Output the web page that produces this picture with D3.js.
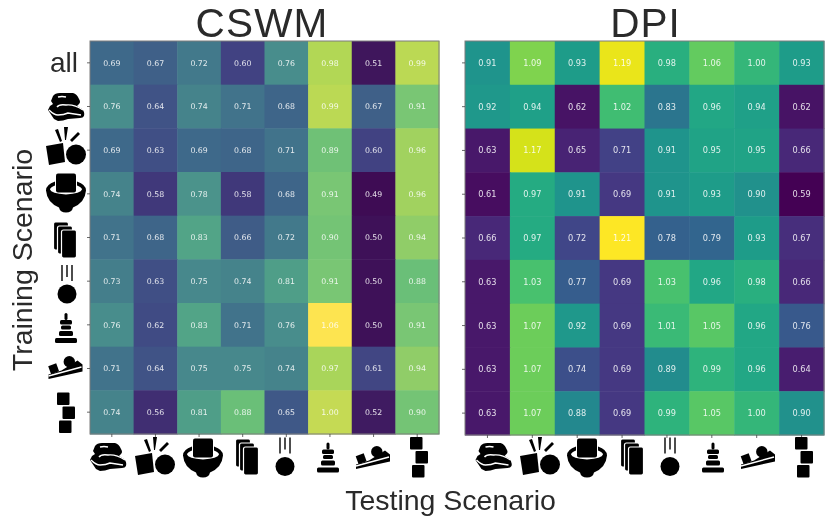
<!DOCTYPE html>
<html>
<head>
<meta charset="utf-8">
<script src="https://cdn.jsdelivr.net/npm/d3@7"></script>
<style>
html, body { margin: 0; padding: 0; background: #fff; }
svg { display: block; filter: blur(0.35px); }
</style>
</head>
<body>
<svg width="831" height="521"></svg>
<script>
var trainLabels = ['all', 'towel', 'collide', 'contain', 'cards', 'fall', 'tower', 'ramp', 'blocks'];
var testLabels = ['towel', 'collide', 'contain', 'cards', 'fall', 'tower', 'ramp', 'blocks'];

// one row per training scenario
var cswmValues = [
    [0.69, 0.67, 0.72, 0.60, 0.76, 0.98, 0.51, 0.99],
    [0.76, 0.64, 0.74, 0.71, 0.68, 0.99, 0.67, 0.91],
    [0.69, 0.63, 0.69, 0.68, 0.71, 0.89, 0.60, 0.96],
    [0.74, 0.58, 0.78, 0.58, 0.68, 0.91, 0.49, 0.96],
    [0.71, 0.68, 0.83, 0.66, 0.72, 0.90, 0.50, 0.94],
    [0.73, 0.63, 0.75, 0.74, 0.81, 0.91, 0.50, 0.88],
    [0.76, 0.62, 0.83, 0.71, 0.76, 1.06, 0.50, 0.91],
    [0.71, 0.64, 0.75, 0.75, 0.74, 0.97, 0.61, 0.94],
    [0.74, 0.56, 0.81, 0.88, 0.65, 1.00, 0.52, 0.90]
];
var dpiValues = [
    [0.91, 1.09, 0.93, 1.19, 0.98, 1.06, 1.00, 0.93],
    [0.92, 0.94, 0.62, 1.02, 0.83, 0.96, 0.94, 0.62],
    [0.63, 1.17, 0.65, 0.71, 0.91, 0.95, 0.95, 0.66],
    [0.61, 0.97, 0.91, 0.69, 0.91, 0.93, 0.90, 0.59],
    [0.66, 0.97, 0.72, 1.21, 0.78, 0.79, 0.93, 0.67],
    [0.63, 1.03, 0.77, 0.69, 1.03, 0.96, 0.98, 0.66],
    [0.63, 1.07, 0.92, 0.69, 1.01, 1.05, 0.96, 0.76],
    [0.63, 1.07, 0.74, 0.69, 0.89, 0.99, 0.96, 0.64],
    [0.63, 1.07, 0.88, 0.69, 0.99, 1.05, 1.00, 0.90]
];

var cswmStops = [0, 0.19, 0.35, 0.47, 0.6, 0.68, 0.75, 0.86, 1];
var cswmStopColors = ['rgb(62,12,84)', 'rgb(65,65,130)', 'rgb(62,105,138)', 'rgb(72,140,140)', 'rgb(82,165,135)',
    'rgb(105,190,120)', 'rgb(125,200,115)', 'rgb(178,215,85)', 'rgb(253,228,80)'];

var svg = d3.select('svg');
var titleFont = '"Liberation Sans", Arial, sans-serif';
var cellFont = '"DejaVu Sans", sans-serif';

// the scenario pictograms, drawn around 0,0
var icons = {
    towel: function(g) {
        g.append('path').attr('d', 'M-13,-11 Q-11,-14 -6,-14 L7,-14 Q11,-13 13,-8 Q15,-5 13,-3 L11,-1 L16,2 Q19,5 18,9 Q17,11 14,11 L2,12 Q-3,14 -8,14 L-12,12 L-18,3 L-16,-1 L-13,-3 L-15,-6 Z');
        g.append('path').attr('d', 'M-8,-10 Q-4,-11 0,-10').attr('class', 'cut');
        g.append('path').attr('d', 'M-9,0 Q-7,-3 0,-2 Q8,-3 17,3').attr('class', 'cut');
        g.append('path').attr('d', 'M-17,3 Q-12,8 -8,8 Q-2,8 2,6 L15,8').attr('class', 'cut');
    },
    collide: function(g) {
        g.append('path').attr('d', 'M-20,0 L-3,-3 L-1,16 L-17,19 Z');
        g.append('circle').attr('cx', 10).attr('cy', 8.5).attr('r', 10);
        g.append('path').attr('d', 'M-11,-16 L-8,-17 L-4,-5 L-6,-4 Z');
        g.append('path').attr('d', 'M-2,-19 L2,-19 L0,-6 L-1,-6 Z');
        g.append('path').attr('d', 'M12,-14 L14,-12 L6,-4 L4,-6 Z');
    },
    contain: function(g) {
        g.append('path').attr('d', 'M-11,-11 Q-20,-8 -20,-2 Q-19,10 -7,15 Q-6,20 0,20 Q6,20 7,15 Q19,10 20,-2 Q20,-8 11,-11 L11,-7 Q16,-5 16,-3 Q15,1 0,2 Q-15,1 -16,-3 Q-16,-5 -11,-7 Z');
        g.append('rect').attr('x', -10).attr('y', -19).attr('width', 20).attr('height', 19).attr('rx', 2);
    },
    cards: function(g) {
        [[-11.5, -18], [-7.5, -14], [-3.5, -10]].forEach(function(p) {
            g.append('rect').attr('x', p[0]).attr('y', p[1])
                .attr('width', 15).attr('height', 28).attr('rx', 2)
                .attr('stroke', '#fff').attr('stroke-width', 1.2);
        });
    },
    fall: function(g) {
        g.append('circle').attr('cx', 0).attr('cy', 10).attr('r', 9.5);
        [[-5, -3], [0, -7], [5, -3]].forEach(function(p) {
            g.append('line').attr('x1', p[0]).attr('x2', p[0]).attr('y1', -19).attr('y2', p[1])
                .attr('stroke', '#000').attr('stroke-width', 1.4);
        });
    },
    tower: function(g) {
        [[-1.5, -15, 3, 7], [-6, -8, 12, 4.5], [-5, -2.5, 10, 4], [-7, 3, 14, 5], [-11, 10, 22, 5]].forEach(function(p) {
            g.append('rect').attr('x', p[0]).attr('y', p[1]).attr('width', p[2]).attr('height', p[3]).attr('rx', 1.5);
        });
    },
    ramp: function(g) {
        g.append('path').attr('d', 'M-17,7 L-4,3 L12,-7 L17,-3 L17,4 L-17,11.5 Z');
        g.append('path').attr('d', 'M-17,8.5 L16,-0.5').attr('class', 'cut');
        g.append('circle').attr('cx', 3.8).attr('cy', -5.8).attr('r', 5.7);
        g.append('rect').attr('x', -16).attr('y', -3).attr('width', 8.5).attr('height', 8.5)
            .attr('transform', 'rotate(-20 -12 1.5)');
    },
    blocks: function(g) {
        [[-9, -20], [-3.5, -6], [-7, 8]].forEach(function(p) {
            g.append('rect').attr('x', p[0]).attr('y', p[1]).attr('width', 12.5).attr('height', 12.5).attr('rx', 1);
        });
    }
};

function drawIcon(name, x, y) {
    var g = svg.append('g').attr('transform', 'translate(' + x + ',' + y + ')').attr('fill', '#000');
    icons[name](g);
    g.selectAll('.cut').attr('fill', 'none').attr('stroke', '#fff').attr('stroke-width', 1.4);
}

// Draw one heatmap panel
function drawPanel(values, box, colorOf, fontSize) {
    var x = d3.scaleBand().domain(testLabels).range([box.l, box.r]);
    var y = d3.scaleBand().domain(trainLabels).range([box.t, box.b]);
    var flat = d3.merge(values);
    var color = d3.scaleLinear().domain(d3.extent(flat)).range([0, 1]);

    var cells = [];
    values.forEach(function(row, i) {
        row.forEach(function(v, j) {
            cells.push({train: trainLabels[i], test: testLabels[j], value: v});
        });
    });

    var g = svg.append('g');
    g.selectAll('rect').data(cells).enter().append('rect')
        .attr('x', function(d) { return x(d.test); })
        .attr('y', function(d) { return y(d.train); })
        .attr('width', x.bandwidth() + 0.5)
        .attr('height', y.bandwidth() + 0.5)
        .attr('fill', function(d) { return colorOf(color(d.value)); });

    g.selectAll('text').data(cells).enter().append('text')
        .attr('x', function(d) { return x(d.test) + x.bandwidth() / 2; })
        .attr('y', function(d) { return y(d.train) + y.bandwidth() / 2; })
        .attr('dy', '0.36em')
        .attr('text-anchor', 'middle')
        .attr('font-family', cellFont)
        .attr('font-size', fontSize)
        .attr('fill', '#fff')
        .attr('fill-opacity', 0.85)
        .text(function(d) { return d.value.toFixed(2); });

    svg.append('rect')
        .attr('x', box.l).attr('y', box.t)
        .attr('width', box.r - box.l).attr('height', box.b - box.t)
        .attr('fill', 'none').attr('stroke', '#7d7d7d').attr('stroke-width', 1);

    var bottom = svg.append('g').attr('transform', 'translate(0,' + box.b + ')')
        .call(d3.axisBottom(x).tickSize(3).tickFormat(''));
    var left = svg.append('g').attr('transform', 'translate(' + box.l + ',0)')
        .call(d3.axisLeft(y).tickSize(3).tickFormat(''));
    bottom.select('.domain').remove();
    left.select('.domain').remove();
    svg.selectAll('.tick line').attr('stroke', '#444').attr('stroke-width', 0.8);
}

var washed = d3.scaleLinear().domain(cswmStops).range(cswmStopColors);

drawPanel(cswmValues, {l: 90, r: 439, t: 41, b: 434}, washed, 7.8);
drawPanel(dpiValues, {l: 465, r: 824, t: 41, b: 435}, d3.interpolateViridis, 8.2);

// icons sit by hand next to the ticks in the original figure
var leftIconX = [66, 66, 66, 65, 67, 66, 65.5, 66];
var leftIconY = [107, 146, 192.5, 240, 284, 328, 367.5, 412.5];
var cswmIconX = [108, 155, 203, 247, 285, 328, 373, 419];
var dpiIconX = [493.5, 540, 587, 632, 670, 713, 758, 804];
var bottomIconY = [457, 456, 457.5, 457, 456.5, 457.5, 457.5, 457];

testLabels.forEach(function(name, i) {
    drawIcon(name, leftIconX[i], leftIconY[i]);
    drawIcon(name, cswmIconX[i], bottomIconY[i]);
    drawIcon(name, dpiIconX[i], bottomIconY[i]);
});

function bigText(str, x, y, size, rotate, spacing) {
    var t = svg.append('text')
        .attr('text-anchor', 'middle')
        .attr('font-family', titleFont)
        .attr('font-size', size)
        .attr('letter-spacing', spacing || 0)
        .attr('fill', '#2a2a2a')
        .text(str);
    if (rotate) {
        t.attr('transform', 'translate(' + x + ',' + y + ') rotate(-90)');
    } else {
        t.attr('x', x).attr('y', y);
    }
}

bigText('CSWM', 262, 37, 40.5, false, 1.2);
bigText('DPI', 645.5, 37, 40.5, false, 1);
bigText('all', 64, 72, 28);
bigText('Testing Scenario', 450.5, 510, 28.5);
bigText('Training Scenario', 31.5, 260, 28.5, true);
</script>
</body>
</html>
